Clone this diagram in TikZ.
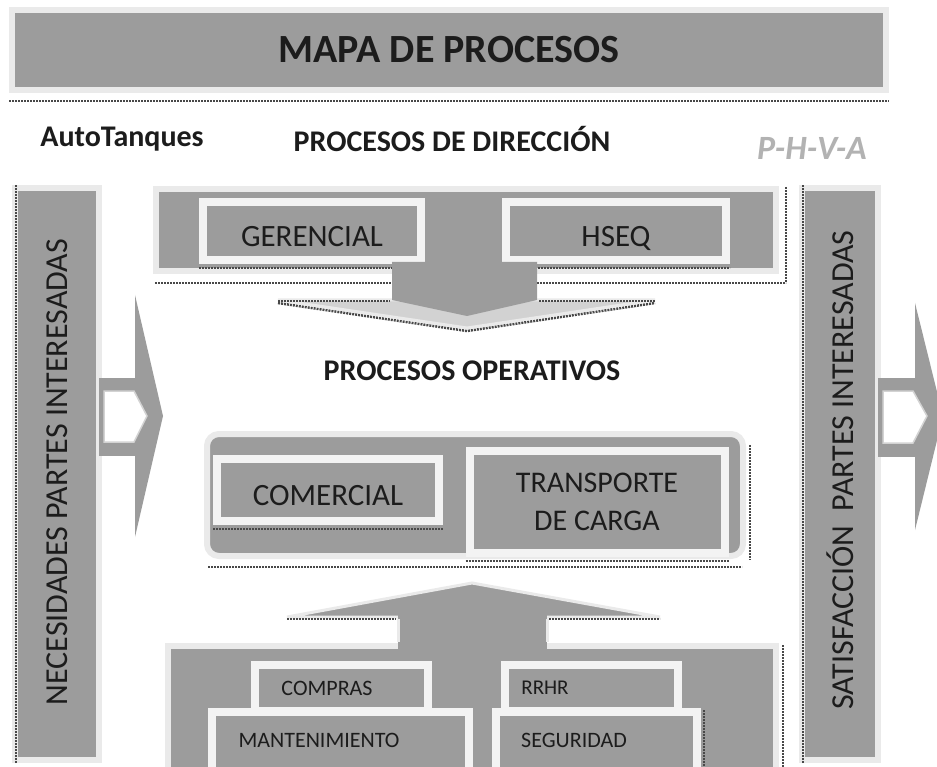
\documentclass[tikz,border=0pt]{standalone}
\usepackage{fontspec}
\setmainfont{Carlito}
\definecolor{boxgray}{RGB}{156,156,156}
\definecolor{edgelight}{RGB}{234,234,234}
\definecolor{edgewhite}{RGB}{243,243,243}
\definecolor{shadowdark}{RGB}{72,72,72}
\definecolor{inktext}{RGB}{28,28,28}
\definecolor{phvagray}{RGB}{178,178,178}
\begin{document}
\begin{tikzpicture}[x=1pt,y=-1pt,
  panel/.style={draw=edgelight, line width=6pt, fill=boxgray, inner sep=0pt},
  itembox/.style={draw=edgewhite, line width=8pt, fill=boxgray, inner sep=0pt, text=inktext},
  lowcaps/.style={text height=31pt, text depth=0pt},
  biglbl/.style={font=\fontsize{31}{38}\selectfont},
  smalllbl/.style={font=\fontsize{22}{26}\selectfont, text=inktext},
  hdr/.style={font=\bfseries\fontsize{30}{34}\selectfont, text=inktext},
  sidelbl/.style={font=\fontsize{32}{36}\selectfont, text=inktext},
  shadowline/.style={shadowdark, line width=2.5pt, dash pattern=on 2pt off 1pt},
  arrowfill/.style={fill=boxgray},
  arrowedge/.style={draw=edgelight, line width=3pt, line join=miter}
]
\useasboundingbox (0,0) rectangle (937,767);
\fill[white] (0,0) rectangle (937,767);

% ---------- title ----------
\node[panel, minimum width=874, minimum height=80,
      font=\bfseries\fontsize{40}{46}\selectfont, text=inktext] (title) at (449,50) {MAPA DE PROCESOS};
\draw[shadowline] ([yshift=-8pt]title.south west) -- ([yshift=-8pt]title.south east);

% ---------- header labels ----------
\node[hdr] (auto) at (122,139) {AutoTanques};
\node[hdr] (dirlbl) at (452,139) {PROCESOS DE DIRECCIÓN};
\node[font=\bfseries\itshape\fontsize{34}{40}\selectfont, text=phvagray] (phva) at (812,148) {P-H-V-A};

% ---------- side columns ----------
\node[panel, rotate=90, minimum width=572, minimum height=84] (needs) at (57,474) {};
\node[sidelbl, rotate=90] (needstxt) at (57,472) {NECESIDADES PARTES INTERESADAS};
\draw[shadowline] ([xshift=4pt]needs.north west) -- ([xshift=4pt]needs.north east);

\node[panel, rotate=90, minimum width=572, minimum height=76] (satis) at (840,474) {};
\node[sidelbl, rotate=90] (satistxt) at (840,470) {SATISFACCIÓN\ \ PARTES INTERESADAS};
\draw[shadowline] ([xshift=4pt]satis.north west) -- ([xshift=4pt]satis.north east);

% left arrow
\fill[arrowfill] (99,378) rectangle (136,456);
\fill[arrowfill] (135,295) -- (163,416) -- (135,537) -- cycle;
\filldraw[fill=white, draw=edgelight!70!boxgray, line width=1.5pt]
  (104,391) -- (134,391) -- (147,416) -- (134,442) -- (104,442) -- cycle;

% right arrow
\fill[arrowfill] (878,378) rectangle (916,457);
\fill[arrowfill] (915,303) -- (943,416) -- (915,530) -- cycle;
\filldraw[fill=white, draw=edgelight!70!boxgray, line width=1.5pt]
  (883,391) -- (913,391) -- (927,416) -- (913,443) -- (883,443) -- cycle;

% ---------- direction panel ----------
\node[panel, minimum width=620, minimum height=82] (dir) at (466,230) {};
\draw[shadowline] (155,283) -- (392,283);
\draw[shadowline] (537,283) -- (786,283);
\draw[shadowline] (786,187) -- (786,283);

\node[itembox, biglbl, lowcaps, minimum width=218, minimum height=58] (ger) at (312,231) {GERENCIAL};
\node[itembox, biglbl, lowcaps, minimum width=220, minimum height=58] (hseq) at (616,231) {HSEQ};
\draw[shadowline] ([yshift=-4pt]ger.south west) -- ([yshift=-4pt]ger.south east);
\draw[shadowline] ([yshift=-4pt]hseq.south west) -- ([yshift=-4pt]hseq.south east);

% down arrow
\draw[shadowline] (278,303) -- (467,331) -- (655,303);
\filldraw[fill=boxgray!45!white, arrowedge] (278,300) -- (467,328) -- (655,300) -- cycle;
\fill[arrowfill] (392,262) -- (392,300) -- (467,316) -- (537,300) -- (537,262) -- cycle;
\draw[shadowline, line width=1.8pt] (278,301) -- (390,301);
\draw[shadowline, line width=1.8pt] (539,301) -- (655,301);

% ---------- operations ----------
\node[hdr] (opslbl) at (472,371) {PROCESOS OPERATIVOS};

\node[panel, rounded corners=12pt, minimum width=536, minimum height=122] (ops) at (475,495) {};
\draw[shadowline] (208,567) -- (742,567);
\draw[shadowline] (750,445) -- (750,560);

\node[itembox, biglbl, lowcaps, minimum width=222, minimum height=62] (com) at (328,490) {COMERCIAL};
\draw[shadowline] ([yshift=-4pt]com.south west) -- ([yshift=-4pt]com.south east);
\node[itembox, font=\fontsize{30}{38}\selectfont, align=center, minimum width=255, minimum height=102] (trans) at (597,502) {TRANSPORTE\\DE CARGA};
\draw[shadowline] ([yshift=-4pt]trans.south west) -- ([yshift=-4pt]trans.south east);

% ---------- support panel ----------
\node[panel, minimum width=608, minimum height=130] (sup) at (472,711) {};
\draw[shadowline] (783,645) -- (783,767);

% up arrow
\filldraw[arrowfill, arrowedge] (287,617) -- (472,583) -- (660,617) -- cycle;
\fill[arrowfill] (398,649) rectangle (547,615);
\draw[shadowline, line width=1.8pt] (287,619) -- (396,619);
\draw[shadowline, line width=1.8pt] (549,619) -- (660,619);
\draw[edgelight, line width=3pt] (398,619) -- (398,642);
\draw[edgelight, line width=3pt] (547,619) -- (547,642);

\node[itembox, minimum width=173, minimum height=46] (compras) at (341,688) {};
\node[itembox, minimum width=173, minimum height=46] (rrhr) at (591,688) {};
\node[itembox, minimum width=257, minimum height=62] (mant) at (340,743) {};
\node[itembox, minimum width=201, minimum height=62] (seg) at (596,743) {};
\draw[shadowline] (704,710) -- (704,767);

\node[smalllbl] (comprastxt) at (327,688) {COMPRAS};
\node[smalllbl, font=\fontsize{21}{26}\selectfont] (rrhrtxt) at (545,688) {RRHR};
\node[smalllbl] (manttxt) at (319,740) {MANTENIMIENTO};
\node[smalllbl] (segtxt) at (574,740) {SEGURIDAD};
\end{tikzpicture}
\end{document}
